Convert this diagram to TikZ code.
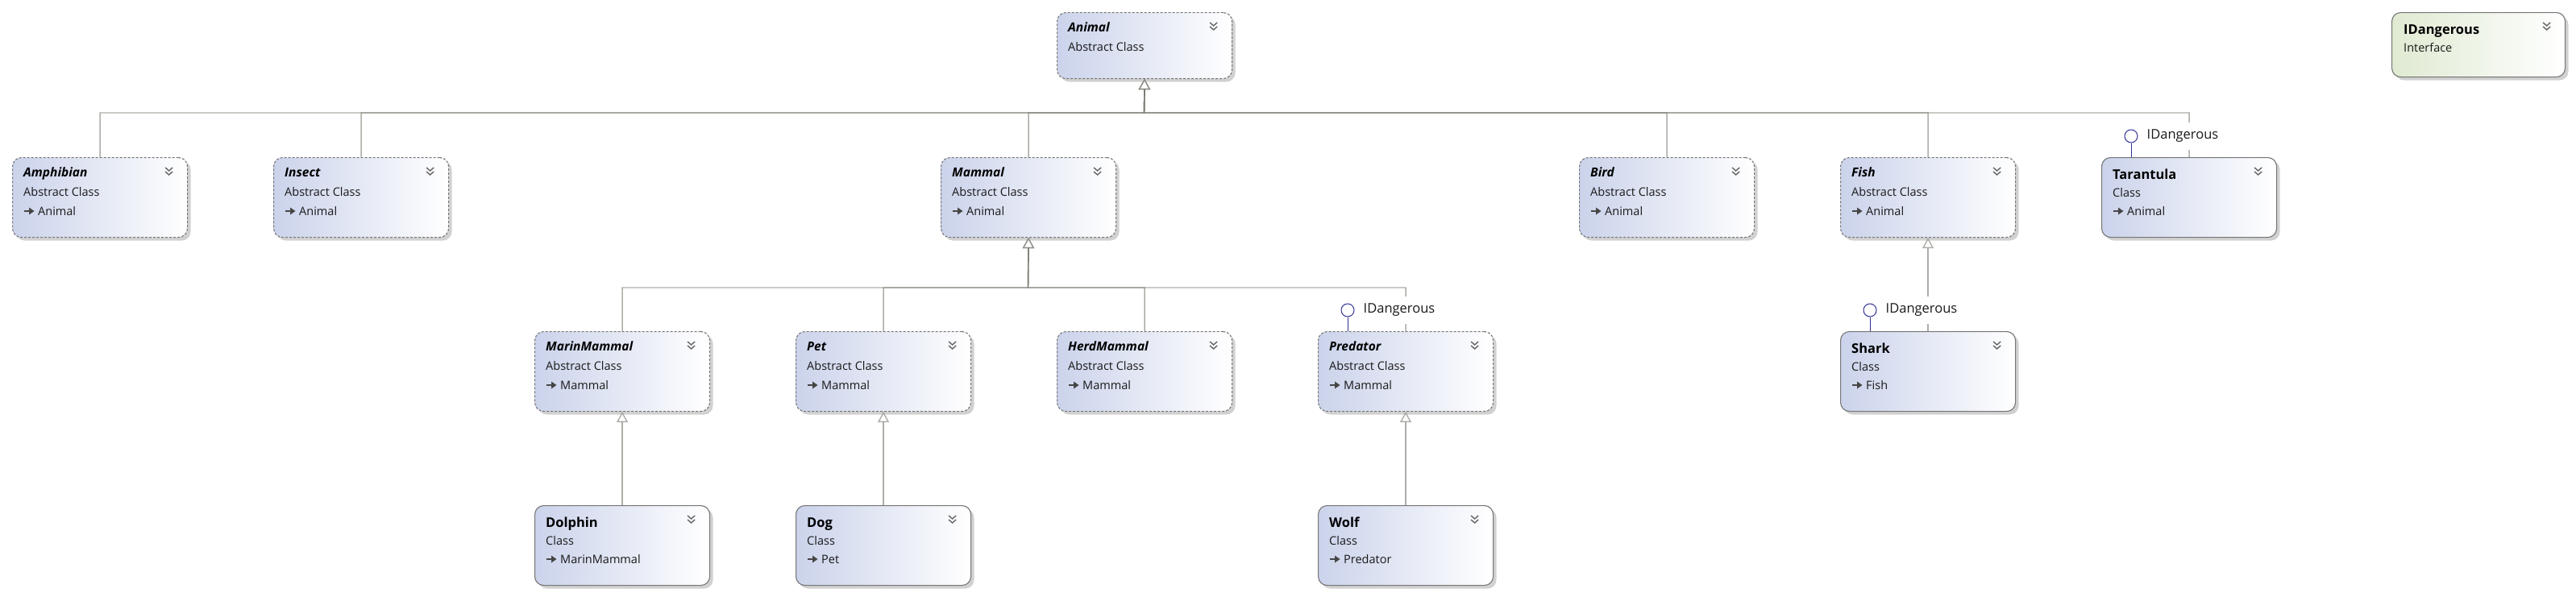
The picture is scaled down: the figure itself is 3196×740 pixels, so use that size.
\documentclass[tikz,border=0pt]{standalone}
\usepackage{fontspec}
\setmainfont{Open Sans}
\usetikzlibrary{arrows.meta,shadows,calc}
\definecolor{boxL}{RGB}{203,211,235}
\definecolor{ifL}{RGB}{224,234,210}
\definecolor{edge}{RGB}{118,118,118}
\definecolor{conn}{RGB}{120,120,112}
\definecolor{lolli}{RGB}{48,48,150}
\definecolor{txt}{RGB}{25,25,25}
\definecolor{chev}{RGB}{100,100,100}
\definecolor{iconc}{RGB}{70,70,70}
\tikzset{
 umlbase/.style={draw=edge, line width=1.1pt, rounded corners=11pt, minimum width=217pt, minimum height=99pt, inner sep=0pt, anchor=north west, left color=boxL, right color=white, drop shadow={shadow xshift=4pt, shadow yshift=-4pt, fill=black, opacity=.18}},
 absshape/.style={umlbase, dash pattern=on 3pt off 2pt},
 clsshape/.style={umlbase},
 ifshape/.style={umlbase, left color=ifL, minimum height=80pt, minimum width=215pt},
 absttl/.style={font=\fontsize{15.5}{18}\selectfont\bfseries\itshape, text=black, inner sep=0pt, anchor=base west},
 clsttl/.style={font=\fontsize{16.5}{19}\selectfont\bfseries, text=black, inner sep=0pt, anchor=base west},
 subtxt/.style={font=\fontsize{14.5}{17}\selectfont, text=txt, inner sep=0pt, anchor=base west},
 gen/.style={draw=conn, draw opacity=.6, line width=1.4pt, -{Triangle[length=13pt,width=14pt,fill=white]}},
 chevs/.style={draw=chev, line width=1.4pt},
 iconline/.style={draw=iconc, line width=2pt},
 lollc/.style={circle, draw=lolli, fill=white, line width=1pt, minimum size=16pt, inner sep=0pt},
 lollline/.style={draw=lolli, line width=1pt},
 ilabel/.style={anchor=west, fill=white, inner xsep=2pt, inner ysep=0pt, minimum height=34pt, font=\fontsize{16.5}{19}\selectfont, text=txt},
}
\newcommand\chevrons[1]{%
 \draw[chevs] ($(#1.north east)+(-28,13)$) -- ++(4.5,4) -- ++(4.5,-4);
 \draw[chevs] ($(#1.north east)+(-28,18)$) -- ++(4.5,4) -- ++(4.5,-4);}
\newcommand\inhicon[1]{%
 \coordinate (#1-ic) at ($(#1.north west)+(15,67)$);
 \draw[iconline] (#1-ic) -- ++(8,0);
 \fill[iconc] ($(#1-ic)+(6,-4.5)$) -- ++(6.5,4.5) -- ++(-6.5,4.5) -- cycle;}
\newcommand\absbox[5]{%
 \node[absshape] (#1) at (#2,#3) {};
 \node[absttl] (#1-n) at ($(#1.north west)+(14,24)$) {#4};
 \node[subtxt] (#1-k) at ($(#1.north west)+(14,48)$) {Abstract Class};
 \node[subtxt] (#1-b) at ($(#1.north west)+(32,72)$) {#5};
 \inhicon{#1}\chevrons{#1}}
\newcommand\clsbox[5]{%
 \node[clsshape] (#1) at (#2,#3) {};
 \node[clsttl] (#1-n) at ($(#1.north west)+(14,27)$) {#4};
 \node[subtxt] (#1-k) at ($(#1.north west)+(14,49)$) {Class};
 \node[subtxt] (#1-b) at ($(#1.north west)+(32,72)$) {#5};
 \inhicon{#1}\chevrons{#1}}
\newcommand\lollipop[1]{%
 \node[lollc] (#1-i) at ($(#1.north west)+(37,-26)$) {};
 \draw[lollline] (#1-i.south) -- (#1-i.south |- #1.north);
 \node[ilabel] (#1-l) at ($(#1-i.east)+(9,0)$) {IDangerous};}
\begin{document}
\begin{tikzpicture}[x=1pt,y=-1pt]
\fill[white] (0,0) rectangle (3196,740);
\useasboundingbox (0,0) rectangle (3196,740);
% row 1
\node[absshape, minimum height=82pt] (animal) at (1311,15) {};
\node[absttl] (animal-n) at ($(animal.north west)+(14,24)$) {Animal};
\node[subtxt] (animal-k) at ($(animal.north west)+(14,48)$) {Abstract Class};
\chevrons{animal}
\node[ifshape] (idang) at (2967,15) {};
\node[clsttl] (idang-n) at ($(idang.north west)+(15,27)$) {IDangerous};
\node[subtxt] (idang-k) at ($(idang.north west)+(15,49)$) {Interface};
\chevrons{idang}
% row 2
\absbox{amph}{15}{195}{Amphibian}{Animal}
\absbox{insect}{339}{195}{Insect}{Animal}
\absbox{mammal}{1167}{195}{Mammal}{Animal}
\absbox{bird}{1959}{195}{Bird}{Animal}
\absbox{fish}{2283}{195}{Fish}{Animal}
\clsbox{tarantula}{2607}{195}{Tarantula}{Animal}
% row 3
\absbox{marin}{663}{411}{MarinMammal}{Mammal}
\absbox{pet}{987}{411}{Pet}{Mammal}
\absbox{herd}{1311}{411}{HerdMammal}{Mammal}
\absbox{predator}{1635}{411}{Predator}{Mammal}
\clsbox{shark}{2283}{411}{Shark}{Fish}
% row 4
\clsbox{dolphin}{663}{627}{Dolphin}{MarinMammal}
\clsbox{dog}{987}{627}{Dog}{Pet}
\clsbox{wolf}{1635}{627}{Wolf}{Predator}
% connectors
\coordinate (hubA) at (1419.5,140);
\coordinate (hubM) at (1275.5,357);
\foreach \c in {amph,insect,mammal,bird,fish,tarantula}
  \draw[gen] (\c.north) |- (hubA) -- (animal.south);
\foreach \c in {marin,pet,herd,predator}
  \draw[gen] (\c.north) |- (hubM) -- (mammal.south);
\draw[gen] (shark.north) -- (fish.south);
\draw[gen] (dolphin.north) -- (marin.south);
\draw[gen] (dog.north) -- (pet.south);
\draw[gen] (wolf.north) -- (predator.south);
% interface lollipops
\lollipop{tarantula}
\lollipop{predator}
\lollipop{shark}
\end{tikzpicture}
\end{document}
